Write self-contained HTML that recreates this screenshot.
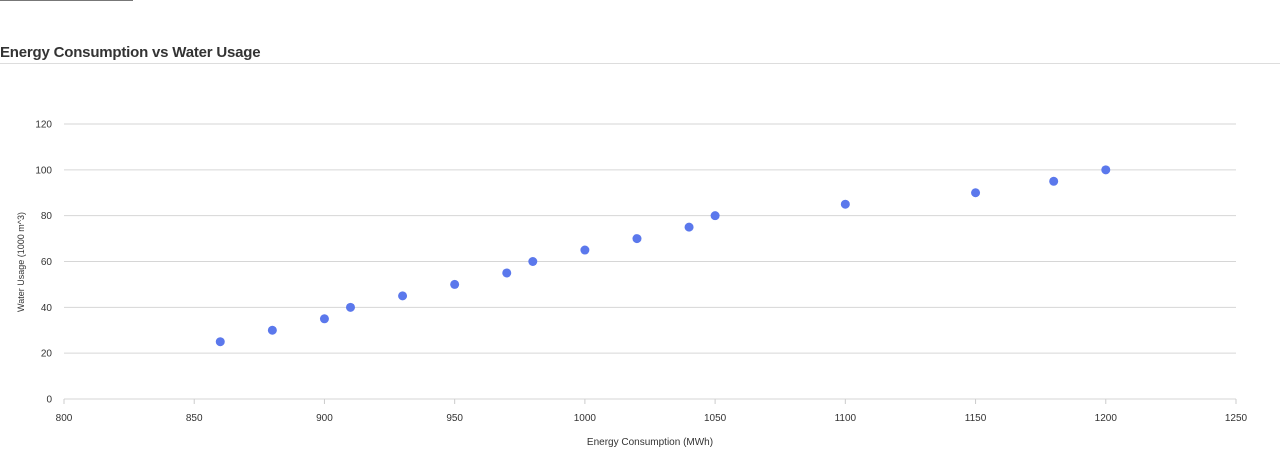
<!DOCTYPE html>
<html><head><meta charset="utf-8"><style>
body{margin:0;width:1280px;height:454px;background:#fff;overflow:hidden;font-family:"Liberation Sans",sans-serif;}
#topbar{position:absolute;left:0;top:0;width:133px;height:1px;background:#777;}
#title{position:absolute;left:0;top:44px;font-size:15px;font-weight:bold;color:#333;letter-spacing:-0.2px;}
#rule{position:absolute;left:0;top:63px;width:1280px;height:1px;background:#ddd;}
svg{position:absolute;left:0;top:0;}
</style></head><body>
<div id="topbar"></div>
<div id="title">Energy Consumption vs Water Usage</div>
<div id="rule"></div>
<svg id="chart" width="1280" height="454"></svg>
<script>
const energy=[860,880,900,910,930,950,970,980,1000,1020,1040,1050,1100,1150,1180,1200];
const water=[25,30,35,40,45,50,55,60,65,70,75,80,85,90,95,100];
const xTicks=[800,850,900,950,1000,1050,1100,1150,1200,1250];
const yTicks=[0,20,40,60,80,100,120];
const X0=64,X1=1236,Y0=399,Y1=124;
const sx=v=>X0+(v-800)/(1250-800)*(X1-X0);
const sy=v=>Y0-(v-0)/(120-0)*(Y0-Y1);
const svg=document.getElementById('chart');
const NS='http://www.w3.org/2000/svg';
function mk(t,a){const e=document.createElementNS(NS,t);for(const k in a)e.setAttribute(k,a[k]);svg.appendChild(e);return e;}
yTicks.forEach(v=>{
  const l=mk('line',{x1:X0,x2:X1,y1:sy(v),y2:sy(v),stroke:'#d6d6d6','stroke-width':1});
  
  
  const t=mk('text',{x:X0-12,y:sy(v)+3.5,'text-anchor':'end','font-size':'10','fill':'#333'});
  t.textContent=v;
  
  
});
xTicks.forEach(v=>{
  const l=mk('line',{x1:sx(v),x2:sx(v),y1:Y0,y2:Y0+5,stroke:'#ccc','stroke-width':1});
  
  
  const t=mk('text',{x:sx(v),y:Y0+22,'text-anchor':'middle','font-size':'10','fill':'#333'});
  t.textContent=v;
  
  
});
energy.forEach((e,i)=>{
  const c=mk('circle',{cx:sx(e),cy:sy(water[i]),r:4.5,fill:'#5b78ec'});
  
  
});
const xt=mk('text',{x:(X0+X1)/2,y:445,'text-anchor':'middle','font-size':'10','fill':'#333'});
xt.textContent='Energy Consumption (MWh)';


const yt=mk('text',{x:0,y:0,'text-anchor':'middle','font-size':'9','fill':'#333',transform:'translate(24,262) rotate(-90)'});
yt.textContent='Water Usage (1000 m^3)';


</script>
</body></html>
